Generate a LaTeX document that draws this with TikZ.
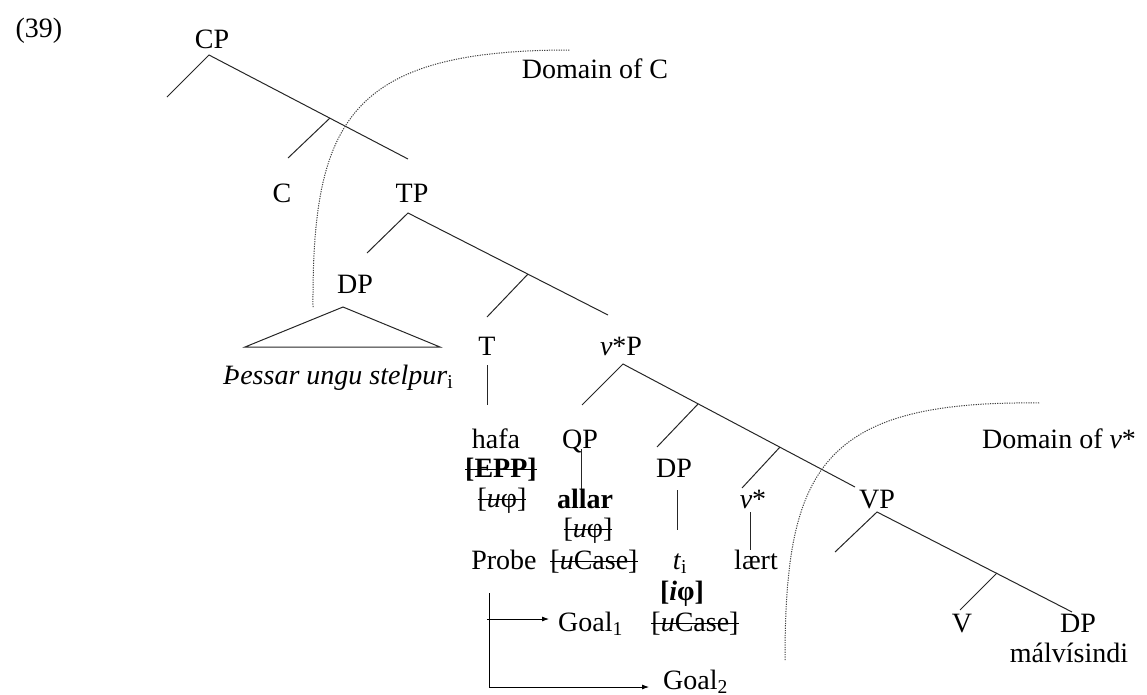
\documentclass[tikz,border=0pt]{standalone}
\usepackage{fontspec}
\setmainfont{Liberation Serif}
\usetikzlibrary{arrows.meta}

% struck-out (checked) feature
\newsavebox\strkbox
\newcommand{\strk}[1]{\sbox\strkbox{#1}\rlap{\rule[0.26em]{\wd\strkbox}{1.1pt}}\usebox\strkbox}

\begin{document}
\begin{tikzpicture}[x=1pt,y=-1pt,
		every node/.style={font=\fontsize{28}{34}\selectfont, inner sep=0pt, anchor=base},
		branch/.style={line width=1pt, black!85},
		phaseline/.style={line width=1pt, black!75, dash pattern=on 1.2pt off 1.2pt},
		probe/.style={line width=0.8pt, -{Latex[length=7pt,width=5pt]}}]
	\useasboundingbox (0,0) rectangle (1147,694);

	% example number
	\node (exnum) at (39,37) {(39)};

	% CP layer
	\node (cp) at (212,48) {CP};
	\coordinate (cp-top) at (209,55);
	\coordinate (cp-spec) at (167,97);
	\coordinate (cbar) at (330,118);
	\coordinate (c-end) at (288,158);
	\coordinate (tp-end) at (408,159);
	\draw[branch] (cp-spec) -- (cp-top) -- (tp-end);
	\draw[branch] (cbar) -- (c-end);
	\node (c) at (282,202) {C};
	\node (tp) at (412,202) {TP};

	% TP layer
	\coordinate (tp-top) at (408,213);
	\coordinate (tp-spec) at (367,253);
	\coordinate (tbar) at (528,274);
	\coordinate (t-end) at (487,317);
	\coordinate (vstarp-end) at (608,315);
	\draw[branch] (tp-spec) -- (tp-top) -- (vstarp-end);
	\draw[branch] (tbar) -- (t-end);

	% subject DP
	\node (subj) at (355,293) {DP};
	\draw[branch] (343,307) -- (245,347) -- (440,347) -- cycle;
	\node[anchor=base west] (stelpur) at (223,384) {\textit{Þessar ungu stelpur}\textsubscript{i}};

	% T and its features
	\node (t) at (487,355) {T};
	\coordinate (t-bot) at (487,365);
	\coordinate (hafa-top) at (487,405);
	\draw[branch] (t-bot) -- (hafa-top);
	\node (hafa) at (496,448) {hafa};
	\node (epp) at (501,477) {\strk{\textbf{[EPP]}}};
	\node (uphi1) at (502,507) {\strk{[\textit{u}φ]}};
	\node (probe) at (504,569) {Probe};

	% v*P layer
	\node (vstarp) at (621,355) {\textit{v}*P};
	\coordinate (vp-top) at (623,364);
	\coordinate (qp-end) at (582,405);
	\coordinate (vbar1) at (698,404);
	\coordinate (dp-end) at (657,447);
	\coordinate (vbar2) at (780,447);
	\coordinate (vstar-end) at (742,488);
	\coordinate (vpp-end) at (855,487);
	\draw[branch] (qp-end) -- (vp-top) -- (vpp-end);
	\draw[branch] (vbar1) -- (dp-end);
	\draw[branch] (vbar2) -- (vstar-end);

	% QP
	\node (qp) at (580,448) {QP};
	\draw[branch] (581,449) -- (581,497);
	\node (allar) at (585,508) {\textbf{allar}};
	\node (uphi2) at (588,537) {\strk{[\textit{u}φ]}};
	\node (ucase1) at (594,569) {\strk{[\textit{u}Case]}};

	% trace DP
	\node (dp) at (674,477) {DP};
	\draw[branch] (677,490) -- (677,530);
	\node (trace) at (680,569) {\textit{t}\textsubscript{i}};
	\node (iphi) at (682,600) {\textbf{[\textit{i}φ]}};
	\node (ucase2) at (695,631) {\strk{[\textit{u}Case]}};

	% v* head
	\node (vstar) at (753,508) {\textit{v}*};
	\draw[branch] (750,512) -- (750,550);
	\node (laert) at (756,569) {lært};

	% VP layer
	\node (vp) at (877,508) {VP};
	\coordinate (vpr-top) at (877,512);
	\coordinate (vp-spec) at (835,552);
	\coordinate (vbar) at (997,573);
	\coordinate (v-end) at (960,610);
	\coordinate (obj-end) at (1072,612);
	\draw[branch] (vp-spec) -- (vpr-top) -- (obj-end);
	\draw[branch] (vbar) -- (v-end);
	\node (v) at (962,632) {V};
	\node (obj) at (1078,632) {DP};
	\node (malv) at (1069,662) {málvísindi};

	% phase domains
	\draw[phaseline] (313,307) .. controls (312,120) and (350,50) .. (570,50);
	\node (cdom) at (595,78) {Domain of C};
	\draw[phaseline] (785,660) .. controls (785,470) and (820,400) .. (1040,403);
	\node (vdom) at (1059,448) {Domain of \textit{v}*};

	% probe-goal arrows
	\coordinate (prb-top) at (489,593);
	\coordinate (prb-bot) at (489,687);
	\coordinate (g1-tip) at (549,619);
	\coordinate (g2-tip) at (649,687);
	\draw[line width=0.8pt] (prb-top) -- (prb-bot);
	\draw[probe] (487,619) -- (g1-tip);
	\draw[probe] (prb-bot) -- (g2-tip);
	\node[anchor=base west] (goal1) at (558,631) {Goal\textsubscript{1}};
	\node[anchor=base west] (goal2) at (663,689) {Goal\textsubscript{2}};
\end{tikzpicture}
\end{document}
